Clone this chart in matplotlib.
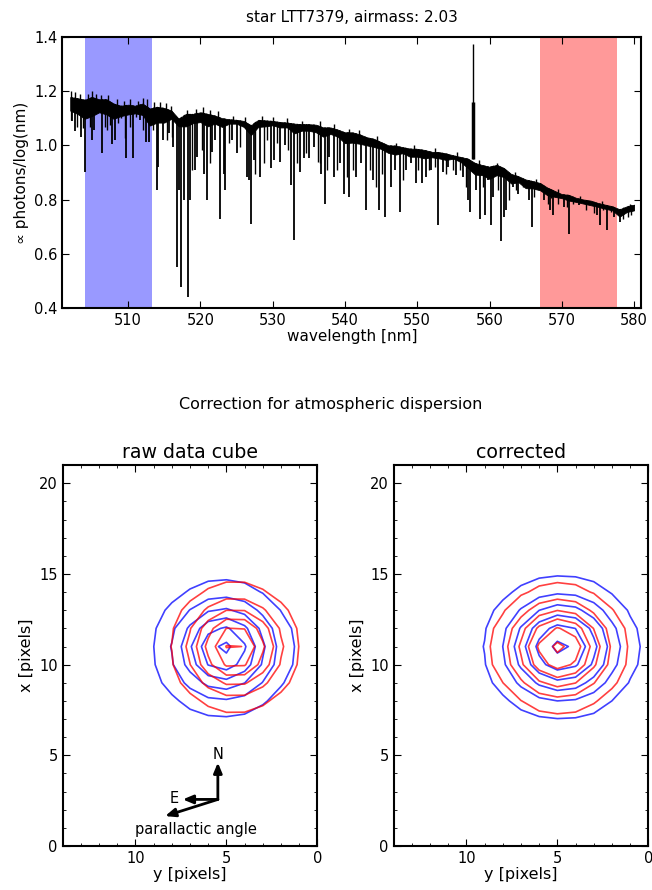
import numpy as np
import matplotlib.pyplot as plt
from matplotlib.ticker import MultipleLocator

# ---- spectrum: dense continuum band (upper / lower edge), 1 nm knots
band_wl = list(range(502, 581))
band_top = [1.178, 1.174, 1.168, 1.178, 1.170, 1.170, 1.154, 1.146, 1.150, 1.146, 1.154, 1.136, 1.142, 1.138, 1.128,
            1.098, 1.116, 1.116, 1.122,
            1.116, 1.110, 1.100, 1.096, 1.094, 1.090, 1.074, 1.094, 1.092, 1.090, 1.086, 1.084, 1.080, 1.078, 1.078,
            1.076, 1.066, 1.066, 1.058, 1.048,
            1.048, 1.041, 1.030, 1.024, 1.012, 1.000, 0.999, 0.993, 0.988, 0.987, 0.983, 0.976, 0.975, 0.970, 0.963,
            0.957, 0.951, 0.935, 0.927, 0.921,
            0.928, 0.916, 0.894, 0.886, 0.874, 0.868, 0.861, 0.844, 0.832, 0.820, 0.817, 0.806, 0.800, 0.796, 0.787,
            0.781, 0.775, 0.764, 0.775, 0.781]
band_bot = [1.128, 1.116, 1.098, 1.108, 1.122, 1.114, 1.098, 1.108, 1.114, 1.118, 1.112, 1.073, 1.084, 1.084, 1.098,
            1.070, 1.070, 1.082, 1.086,
            1.070, 1.080, 1.068, 1.080, 1.080, 1.068, 1.038, 1.068, 1.070, 1.074, 1.066, 1.066, 1.044, 1.054, 1.054,
            1.048, 1.032, 1.042, 1.032, 1.008,
            1.010, 1.006, 1.000, 0.994, 0.987, 0.972, 0.966, 0.971, 0.958, 0.958, 0.952, 0.956, 0.952, 0.946, 0.951,
            0.939, 0.916, 0.892, 0.890, 0.876,
            0.890, 0.883, 0.859, 0.864, 0.842, 0.841, 0.834, 0.816, 0.810, 0.805, 0.796, 0.791, 0.785, 0.779, 0.773,
            0.766, 0.760, 0.737, 0.754, 0.760]

# noise peaks sticking out above the band
spike_wl = [502.1, 502.6, 503.3, 504.5, 505.0, 505.6, 506.3, 507.2, 508.4, 509.5, 510.2, 511.3, 512.0, 512.6,
            513.6, 514.4, 515.2, 516.0, 518.2, 519.4, 520.3, 521.3, 522.5, 524.5, 526.2, 528.5, 530.0, 532.0,
            534.0, 536.5, 538.5, 540.5, 542.0, 544.5, 547.0, 549.5, 552.5, 555.5, 558.5, 561.0, 563.5, 566.5,
            569.5, 572.5, 575.5, 579.5]
spike_max = [1.200, 1.195, 1.190, 1.190, 1.200, 1.190, 1.185, 1.185, 1.170, 1.165, 1.170, 1.165, 1.175, 1.170,
             1.160, 1.160, 1.155, 1.145, 1.130, 1.135, 1.140, 1.130, 1.125, 1.110, 1.105, 1.110, 1.105, 1.100,
             1.090, 1.090, 1.080, 1.060, 1.055, 1.035, 1.010, 1.000, 0.990, 0.975, 0.945, 0.935, 0.900, 0.875,
             0.838, 0.812, 0.795, 0.785]

# absorption lines: wavelength [nm], minimum flux
line_wl = [502.27, 502.69, 503.52, 504.07, 505.05, 505.28, 506.44, 507.82, 508.15, 509.77, 510.74, 511.6, 512.45,
           512.9, 513.94, 514.2, 514.86, 515.7, 516.25, 516.71, 516.99, 517.27, 517.73, 518.33, 518.56, 519.26, 519.6,
           520.46, 520.92, 521.61, 522.07, 522.76, 523.23, 523.46, 524.38, 525.07, 526.45, 526.77, 527.0, 527.47,
           528.3, 529.77, 530.23, 531.06, 531.75, 532.53, 532.9, 533.82, 534.29, 534.98, 535.67, 536.73, 537.28,
           537.83, 538.43, 539.26, 539.82, 540.5, 541.57, 542.26, 542.95, 543.87, 544.7, 545.58, 546.4, 546.87,
           547.65, 548.48, 549.17, 549.77, 550.69, 551.24, 551.94, 552.9, 553.55, 554.29, 555.39, 556.4, 557.0,
           557.24, 558.16, 558.62, 559.4, 559.77, 560.23, 560.46, 561.57, 561.94, 562.3, 563.23, 563.92, 565.53,
           565.85, 567.14, 567.6, 568.3, 568.85, 570.37, 570.97, 572.44, 574.84, 575.3, 576.27, 577.28, 578.06]
line_min = [1.088, 1.054, 1.032, 0.902, 1.020, 1.057, 0.973, 1.005, 1.020, 0.952, 0.952, 1.094, 1.014,
            1.014, 0.837, 0.920, 1.020, 1.044, 0.995, 0.550, 0.835, 0.479, 0.800, 0.440, 0.800, 0.909, 0.958,
            0.896, 0.800, 0.977, 1.020, 0.730, 0.896, 0.835, 1.020, 0.970, 0.884, 0.872, 0.711, 0.946,
            0.884, 0.915, 0.946, 0.940, 1.000, 0.853, 0.650, 0.902, 0.952, 0.952, 0.995, 0.896, 0.785,
            0.958, 0.884, 0.933, 0.822, 0.810, 0.884, 0.933, 0.760, 0.872, 0.760, 0.736, 0.847, 0.909,
            0.754, 0.909, 0.933, 0.860, 0.860, 0.884, 0.909, 0.705, 0.902, 0.921, 0.890, 0.884, 0.797,
            0.754, 0.835, 0.730, 0.742, 0.872, 0.705, 0.810, 0.647, 0.736, 0.760, 0.847, 0.822, 0.800,
            0.700, 0.847, 0.800, 0.760, 0.742, 0.773, 0.672, 0.779, 0.742, 0.707, 0.689, 0.736, 0.717]

# weaker lines
weak_wl = [502.04, 502.96, 503.75, 504.44, 504.77, 505.51, 506.76, 507.08, 507.45, 508.61, 509.07, 509.54, 510.23,
           511.16, 512.08, 513.47, 515.32, 516.02, 518.80, 520.19, 521.29, 523.92, 525.53, 527.6, 528.76, 529.2,
           530.6, 532.07, 533.36, 534.65, 536.22, 536.5, 537.5, 538.9, 540.28, 541.1, 543.4, 544.24, 545.16, 548.0,
           550.09, 551.61, 552.4, 554.0, 554.93, 555.85, 556.68, 559.08, 561.15, 562.76, 563.69, 564.6, 566.2,
           568.06, 568.53, 569.45, 570.69, 571.52, 573.36, 574.5, 575.67, 576.82, 578.43, 579.12, 579.6]
weak_min = [1.094, 1.069, 1.063, 1.118, 1.069, 1.118, 1.069, 1.057, 1.075, 1.081, 1.100, 1.026, 1.069,
            1.106, 1.057, 1.057, 1.020, 1.032, 0.909, 0.983, 0.933, 1.007, 0.995, 0.896, 0.933, 1.020,
            1.007, 0.983, 0.933, 0.970, 0.940, 0.933, 0.909, 0.909, 0.884, 0.909, 0.909, 0.847, 0.896, 0.872,
            0.909, 0.909, 0.921, 0.896, 0.909, 0.909, 0.847, 0.847, 0.835, 0.800, 0.835, 0.847, 0.810,
            0.785, 0.804, 0.785, 0.773, 0.785, 0.760, 0.750, 0.760, 0.754, 0.730, 0.736, 0.742]

# sky emission line (OI 557.7 nm)
sky_wl = [557.66, 557.72]
sky_top = [1.16, 1.375]

blue_band = (504.0, 513.3)
red_band = (567.0, 577.7)

# ---- PSF contours: centre (y, x) and width (y, x) in pixels, from the picture
levels = [0.10, 0.27, 0.44, 0.61, 0.78, 0.95]
raw_blue = dict(cy=5.17, cx=10.88, sy=1.78, sx=1.72)
raw_red = dict(cy=4.53, cx=10.96, sy=1.63, sx=1.63)
cor_blue = dict(cy=4.80, cx=10.94, sy=1.98, sx=1.82)
cor_red = dict(cy=4.89, cx=10.90, sy=1.72, sx=1.63)

pix_y = np.arange(0, 15)
pix_x = np.arange(0, 22)


def psf_image(p):
    yy, xx = np.meshgrid(pix_y, pix_x)
    return np.exp(-0.5 * (((yy - p["cy"]) / p["sy"]) ** 2 + ((xx - p["cx"]) / p["sx"]) ** 2))


plt.rcParams["font.family"] = ["DejaVu Sans"]
plt.rcParams["axes.linewidth"] = 1.5
plt.rcParams["xtick.direction"] = "in"
plt.rcParams["ytick.direction"] = "in"
plt.rcParams["xtick.top"] = True
plt.rcParams["ytick.right"] = True
plt.rcParams["xtick.major.size"] = 5
plt.rcParams["ytick.major.size"] = 5
plt.rcParams["xtick.minor.size"] = 2.5
plt.rcParams["ytick.minor.size"] = 2.5
plt.rcParams["xtick.labelsize"] = 10.5
plt.rcParams["ytick.labelsize"] = 10.5

fig = plt.figure(figsize=(6.52, 8.9), dpi=100)

# ---- top: spectrum
ax = fig.add_axes([0.0956, 0.654, 0.888, 0.3045])
ax.axvspan(*blue_band, color="b", alpha=0.4, lw=0, zorder=0)
ax.axvspan(*red_band, color="r", alpha=0.4, lw=0, zorder=0)
ax.fill_between(band_wl, band_bot, band_top, color="k", lw=0.6, zorder=2)
below_top = ax.fill_between(band_wl, 0.3, band_top, facecolor="none", edgecolor="none")
above_bot = ax.fill_between(band_wl, band_bot, 1.45, facecolor="none", edgecolor="none")
for wl, lo, lw in [(line_wl, line_min, 1.3), (weak_wl, weak_min, 1.0)]:
    vl = ax.vlines(wl, lo, 1.3, color="k", lw=lw, zorder=2)
    vl.set_clip_path(below_top.get_paths()[0], ax.transData)
sp = ax.vlines(spike_wl, 0.5, spike_max, color="k", lw=1.0, zorder=2)
sp.set_clip_path(above_bot.get_paths()[0], ax.transData)
ax.vlines(sky_wl, 0.95, sky_top, color="k", lw=[2.5, 1.0], zorder=2)
ax.set_xlim(500.9, 581.0)
ax.set_ylim(0.4, 1.4)
ax.xaxis.set_major_locator(MultipleLocator(10))
ax.yaxis.set_major_locator(MultipleLocator(0.2))
ax.set_xlabel("wavelength [nm]", fontsize=11, labelpad=1)
ax.set_ylabel("\u221d photons/log(nm)", fontsize=11)
ax.set_title("star LTT7379, airmass: 2.03", fontsize=11, pad=11)

fig.text(0.507, 0.546, "Correction for atmospheric dispersion", ha="center", va="center", fontsize=11.5)

# ---- bottom: contour panels
panels = [("raw data cube", raw_blue, raw_red, 0.0962),
          ("corrected", cor_blue, cor_red, 0.6038)]
for title, pb, pr, left in panels:
    a = fig.add_axes([left, 0.0494, 0.3905, 0.428])
    a.contour(pix_y, pix_x, psf_image(pb), levels=levels, colors="b", linewidths=1.2, alpha=0.75)
    a.contour(pix_y, pix_x, psf_image(pr), levels=levels, colors="r", linewidths=1.2, alpha=0.75)
    a.set_xlim(14, 0)
    a.set_ylim(0, 21)
    a.xaxis.set_major_locator(MultipleLocator(5))
    a.yaxis.set_major_locator(MultipleLocator(5))
    a.xaxis.set_minor_locator(MultipleLocator(1))
    a.yaxis.set_minor_locator(MultipleLocator(1))
    a.set_xlabel("y [pixels]", fontsize=11.5, labelpad=1)
    a.set_ylabel("x [pixels]", fontsize=11.5)
    a.set_title(title, fontsize=13.7, pad=5)
    if title == "raw data cube":
        arr = dict(arrowstyle="-|>,head_length=0.6,head_width=0.25", color="k", lw=2.0, shrinkA=0, shrinkB=0)
        a.annotate("", xy=(5.47, 4.6), xytext=(5.47, 2.57), arrowprops=arr)
        a.annotate("", xy=(7.4, 2.57), xytext=(5.47, 2.57), arrowprops=arr)
        a.annotate("", xy=(8.37, 1.65), xytext=(5.47, 2.57), arrowprops=arr)
        a.text(5.45, 5.05, "N", ha="center", va="center", fontsize=10.5)
        a.text(7.85, 2.6, "E", ha="center", va="center", fontsize=10.5)
        a.text(6.66, 0.92, "parallactic angle", ha="center", va="center", fontsize=10.5)

fig.savefig("out.png", dpi=100)
